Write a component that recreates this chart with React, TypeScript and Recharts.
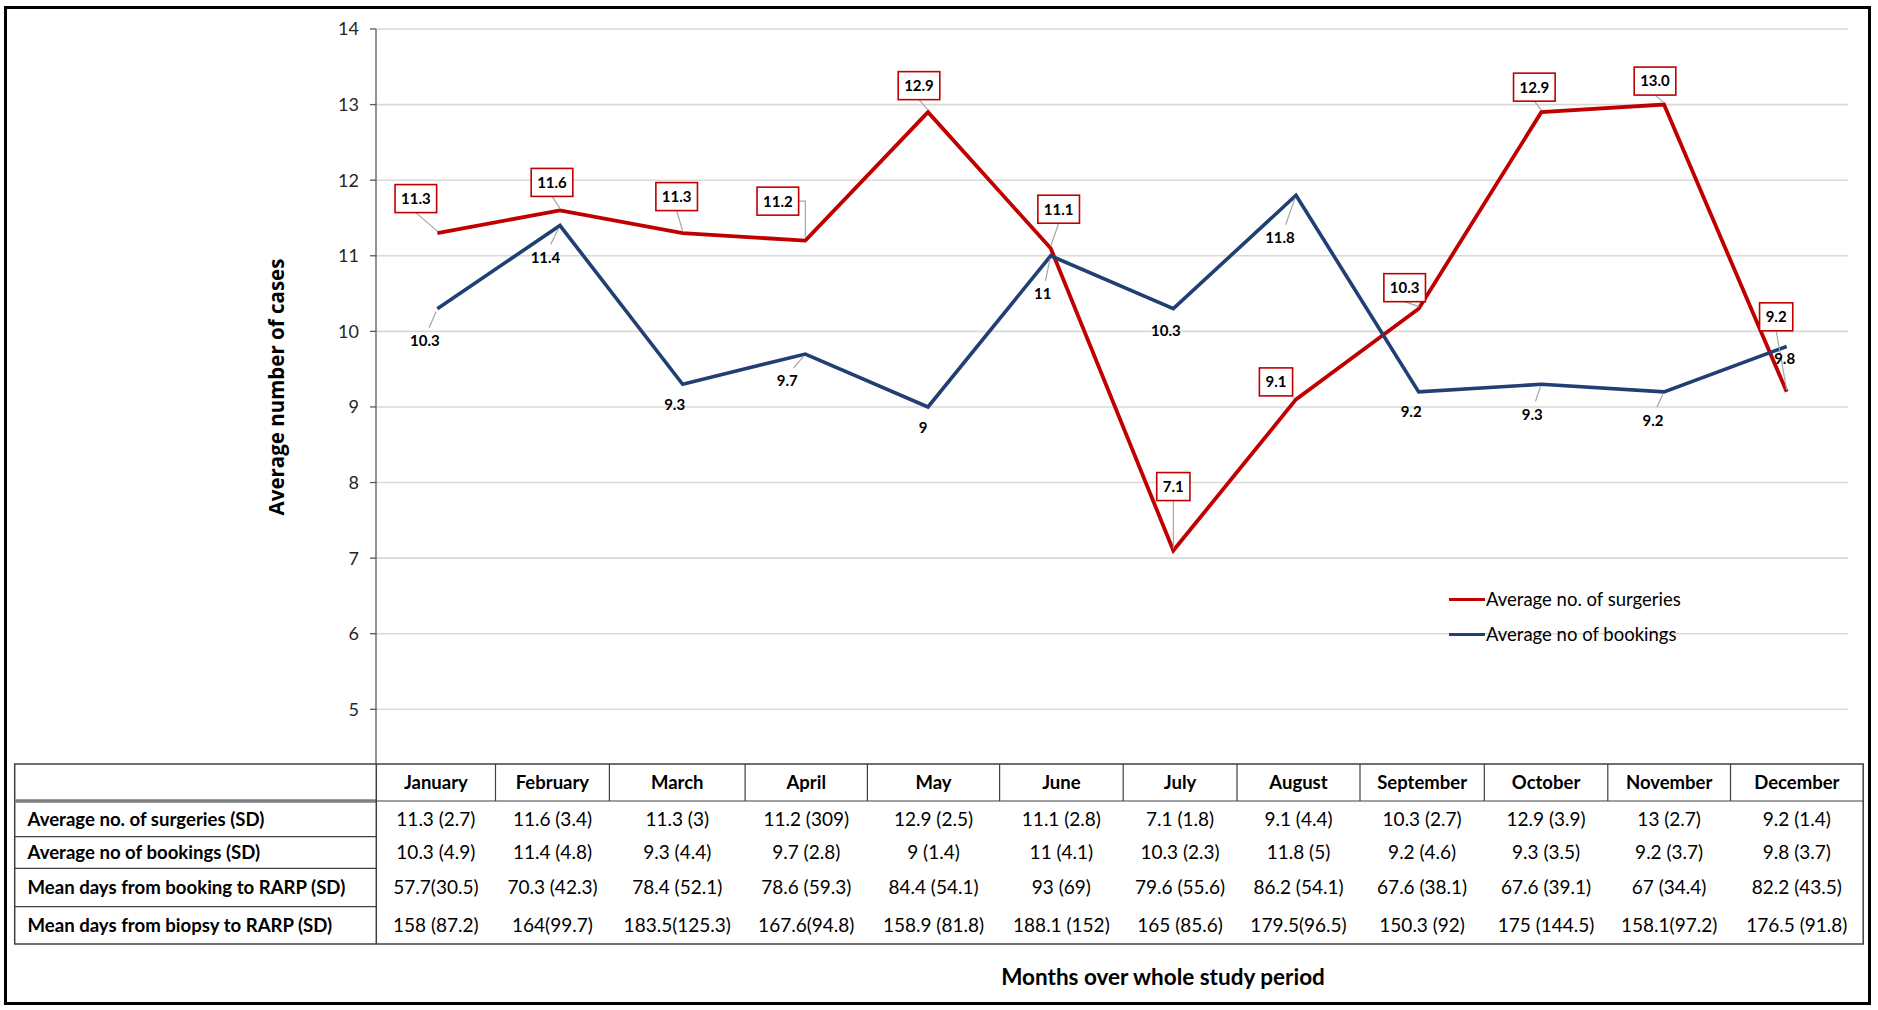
import React from 'react';
import { LineChart, Line, XAxis, YAxis, CartesianGrid, LabelList, Legend } from 'recharts';

// ---------- data ----------
const months = ['January', 'February', 'March', 'April', 'May', 'June', 'July', 'August', 'September', 'October', 'November', 'December'];
const surgeries = [11.3, 11.6, 11.3, 11.2, 12.9, 11.1, 7.1, 9.1, 10.3, 12.9, 13.0, 9.2];
const bookings = [10.3, 11.4, 9.3, 9.7, 9, 11, 10.3, 11.8, 9.2, 9.3, 9.2, 9.8];
const yTicks = [5, 6, 7, 8, 9, 10, 11, 12, 13, 14];

const rowLabels = [
  'Average no. of surgeries (SD)',
  'Average no of bookings (SD)',
  'Mean days from booking to RARP (SD)',
  'Mean days from biopsy to RARP (SD)',
];
const surgeriesSD = ['11.3 (2.7)', '11.6 (3.4)', '11.3 (3)', '11.2 (309)', '12.9 (2.5)', '11.1 (2.8)', '7.1 (1.8)', '9.1 (4.4)', '10.3 (2.7)', '12.9 (3.9)', '13 (2.7)', '9.2 (1.4)'];
const bookingsSD = ['10.3 (4.9)', '11.4 (4.8)', '9.3 (4.4)', '9.7 (2.8)', '9 (1.4)', '11 (4.1)', '10.3 (2.3)', '11.8 (5)', '9.2 (4.6)', '9.3 (3.5)', '9.2 (3.7)', '9.8 (3.7)'];
const bookingToRarp = ['57.7(30.5)', '70.3 (42.3)', '78.4 (52.1)', '78.6 (59.3)', '84.4 (54.1)', '93 (69)', '79.6 (55.6)', '86.2 (54.1)', '67.6 (38.1)', '67.6 (39.1)', '67 (34.4)', '82.2 (43.5)'];
const biopsyToRarp = ['158 (87.2)', '164(99.7)', '183.5(125.3)', '167.6(94.8)', '158.9 (81.8)', '188.1 (152)', '165 (85.6)', '179.5(96.5)', '150.3 (92)', '175 (144.5)', '158.1(97.2)', '176.5 (91.8)'];
const tableRows = [surgeriesSD, bookingsSD, bookingToRarp, biopsyToRarp];

const seriesNames = ['Average no. of surgeries', 'Average no of bookings'];
const yTitle = 'Average number of cases';
const xTitle = 'Months over whole study period';

const chartData = months.map((m, i) => ({ month: m, surgeries: surgeries[i], bookings: bookings[i] }));

// ---------- layout / style ----------
const W = 1878;
const H = 1010;
const RED = '#C00000';
const BLUE = '#213F73';
const LEADER = '#A6A6A6';
const FONT = 'Lato, "Open Sans", sans-serif';

// label offsets relative to each data point (layout only)
const redOffsets = [[-21.5, -34.5], [-8, -28], [-6, -36.5], [-27.5, -39.5], [-9, -26.5], [8, -39], [0, -64], [-20, -17.5], [-14, -21], [-7, -25], [-9, -23.5], [-10.5, -75]];
const blueOffsets = [[-12.5, 32], [-14.5, 32], [-8, 20], [-18, 27], [-5, 21], [-8, 38], [-7.5, 21.5], [-16, 42.5], [-7.5, 20], [-9, 30], [-11, 28.5], [-2, 12.5]];

const colEdges = [14.7, 376.3, 495.5, 609.4, 745.1, 867.4, 999.6, 1123.2, 1237, 1360, 1484.3, 1607.8, 1730.5, 1863.2];
const rowEdges = [764, 801, 836.7, 868.3, 906.7, 944];

const firstX = 437.33;
const stepX = 122.67;

const getXY = (props: any) => {
  const x = props.x ?? props.viewBox?.x ?? props.cx;
  const y = props.y ?? props.viewBox?.y ?? props.cy;
  let index = props.index;
  if (index === undefined || index === null) index = Math.round((x - firstX) / stepX);
  return { x, y, index };
};

const RedLabel = (props: any) => {
  const { x, y, index } = getXY(props);
  const value = Number(props.value);
  if (x === undefined || y === undefined || isNaN(value)) return null;
  const [dx, dy] = redOffsets[index] || [0, -30];
  const text = value.toFixed(1);
  const w = text.length * 8.4 + 8;
  const h = 28;
  const cx = x + dx;
  const cy = y + dy;
  let leader: any = null;
  if (Math.abs(dx) > 25) {
    const sx = dx < 0 ? cx + w / 2 : cx - w / 2;
    leader = <polyline points={`${sx},${cy} ${x},${cy} ${x},${y - 3}`} fill="none" stroke={LEADER} strokeWidth={1.2} />;
  } else if (y - (cy + h / 2) > 4) {
    leader = <line x1={cx} y1={cy + h / 2} x2={x} y2={y - 2} stroke={LEADER} strokeWidth={1.2} />;
  }
  return (
    <g>
      {leader}
      <rect x={cx - w / 2} y={cy - h / 2} width={w} height={h} fill="#fff" stroke={RED} strokeWidth={1.6} />
      <text x={cx} y={cy} dy="0.36em" textAnchor="middle" fontSize={15} fontWeight={700} fill="#000" fontFamily={FONT}>{text}</text>
    </g>
  );
};

const BlueLabel = (props: any) => {
  const { x, y, index } = getXY(props);
  const value = Number(props.value);
  if (x === undefined || y === undefined || isNaN(value)) return null;
  const [dx, dy] = blueOffsets[index] || [0, 25];
  const cx = x + dx;
  const cy = y + dy;
  const dist = Math.sqrt(dx * dx + dy * dy);
  let leader: any = null;
  if (dist > 24) {
    const ex = cx + (x - cx) * 0.35;
    const ey = cy - 13;
    const len = Math.sqrt((ex - x) ** 2 + (ey - y) ** 2) || 1;
    const sx = x + ((ex - x) / len) * 3;
    const sy = y + ((ey - y) / len) * 3;
    leader = <line x1={sx} y1={sy} x2={ex} y2={ey} stroke={LEADER} strokeWidth={1.2} />;
  }
  return (
    <g>
      {leader}
      <text x={cx} y={cy} dy="0.36em" textAnchor="middle" fontSize={15} fontWeight={700} fill="#000" fontFamily={FONT}>{String(value)}</text>
    </g>
  );
};

const LegendContent = () => (
  <div style={{ fontFamily: FONT, fontSize: 18.5, color: '#000', lineHeight: '35px' }}>
    {[RED, BLUE].map((c, i) => (
      <div key={i} style={{ display: 'flex', alignItems: 'center', height: 35, whiteSpace: 'nowrap' }}>
        <span style={{ display: 'inline-block', width: 36, height: 3.5, background: c, marginRight: 1 }} />
        <span>{seriesNames[i]}</span>
      </div>
    ))}
  </div>
);

const DataTable = () => {
  const top = rowEdges[0];
  const bottom = rowEdges[rowEdges.length - 1];
  const left = colEdges[0];
  const right = colEdges[colEdges.length - 1];
  const splitX = colEdges[1];
  const headerY = rowEdges[1];
  const lines: any[] = [];
  for (let i = 2; i < colEdges.length - 1; i++) {
    lines.push(<line key={'hv' + i} x1={colEdges[i]} y1={top} x2={colEdges[i]} y2={headerY} stroke="#404040" strokeWidth={1.2} />);
  }
  for (let r = 2; r < rowEdges.length - 1; r++) {
    lines.push(<line key={'rh' + r} x1={left} y1={rowEdges[r]} x2={splitX} y2={rowEdges[r]} stroke="#404040" strokeWidth={1.2} />);
  }
  return (
    <g fontFamily={FONT}>
      <rect x={left} y={top} width={right - left} height={bottom - top} fill="#fff" stroke="#404040" strokeWidth={1.5} />
      {lines}
      <line x1={left} y1={headerY} x2={splitX} y2={headerY} stroke="#7F7F7F" strokeWidth={3.5} />
      <line x1={splitX} y1={headerY} x2={right} y2={headerY} stroke="#404040" strokeWidth={1.2} />
      <line x1={splitX} y1={top} x2={splitX} y2={bottom} stroke="#404040" strokeWidth={1.5} />
      {months.map((m, i) => (
        <text key={'m' + i} x={(colEdges[i + 1] + colEdges[i + 2]) / 2} y={(rowEdges[0] + rowEdges[1]) / 2} dy="0.36em" textAnchor="middle" fontSize={18.5} fontWeight={700} fill="#000">{m}</text>
      ))}
      {rowLabels.map((l, r) => (
        <text key={'l' + r} x={27.5} y={(rowEdges[r + 1] + rowEdges[r + 2]) / 2} dy="0.36em" textAnchor="start" fontSize={18.6} fontWeight={700} fill="#000">{l}</text>
      ))}
      {tableRows.map((row, r) =>
        row.map((v, i) => (
          <text key={'c' + r + '-' + i} x={(colEdges[i + 1] + colEdges[i + 2]) / 2} y={(rowEdges[r + 1] + rowEdges[r + 2]) / 2} dy="0.36em" textAnchor="middle" fontSize={19} fill="#000">{v}</text>
        ))
      )}
    </g>
  );
};

export default function App() {
  return (
    <div style={{ position: 'absolute', left: 0, top: 0, width: W, height: H, background: '#fff', fontFamily: FONT }}>
      <div style={{ position: 'absolute', left: 0, top: 0 }}>
        <LineChart width={W} height={H} data={chartData} margin={{ top: 29, right: 30, bottom: 244, left: 316 }}>
          <CartesianGrid horizontal vertical={false} stroke="#D9D9D9" strokeWidth={1.6} />
          <XAxis dataKey="month" hide padding={{ left: 61.33, right: 61.33 }} />
          <YAxis
            width={60}
            domain={[4.25, 14]}
            ticks={yTicks}
            interval={0}
            axisLine={{ stroke: '#595959', strokeWidth: 1.3 }}
            tickLine={{ stroke: '#595959', strokeWidth: 1.3 }}
            tickSize={6}
            tickMargin={11}
            tick={{ fontSize: 18, fill: '#262626', fontFamily: FONT }}
          />
          <Legend
            layout="vertical"
            align="center"
            verticalAlign="middle"
            content={<LegendContent />}
            wrapperStyle={{ position: 'absolute', left: 1449, top: 582, width: 300, height: 72, bottom: 'auto', right: 'auto' }}
          />
          <Line type="linear" dataKey="surgeries" name={seriesNames[0]} stroke={RED} strokeWidth={3.8} dot={false} activeDot={false} isAnimationActive={false}>
            <LabelList dataKey="surgeries" content={<RedLabel />} />
          </Line>
          <Line type="linear" dataKey="bookings" name={seriesNames[1]} stroke={BLUE} strokeWidth={3.6} dot={false} activeDot={false} isAnimationActive={false}>
            <LabelList dataKey="bookings" content={<BlueLabel />} />
          </Line>
        </LineChart>
      </div>
      <svg width={W} height={H} style={{ position: 'absolute', left: 0, top: 0, pointerEvents: 'none' }}>
        <DataTable />
        <text x={277} y={387} transform="rotate(-90 277 387)" dy="0.36em" textAnchor="middle" fontSize={20.5} fontWeight={700} fill="#000" fontFamily='"Open Sans", Lato, sans-serif'>{yTitle}</text>
        <text x={1163} y={977} dy="0.36em" textAnchor="middle" fontSize={22.5} fontWeight={700} fill="#000" fontFamily={FONT}>{xTitle}</text>
      </svg>
      <div style={{ position: 'absolute', left: 4, top: 6, width: 1867, height: 999, border: '3px solid #000', boxSizing: 'border-box', pointerEvents: 'none' }} />
    </div>
  );
}
